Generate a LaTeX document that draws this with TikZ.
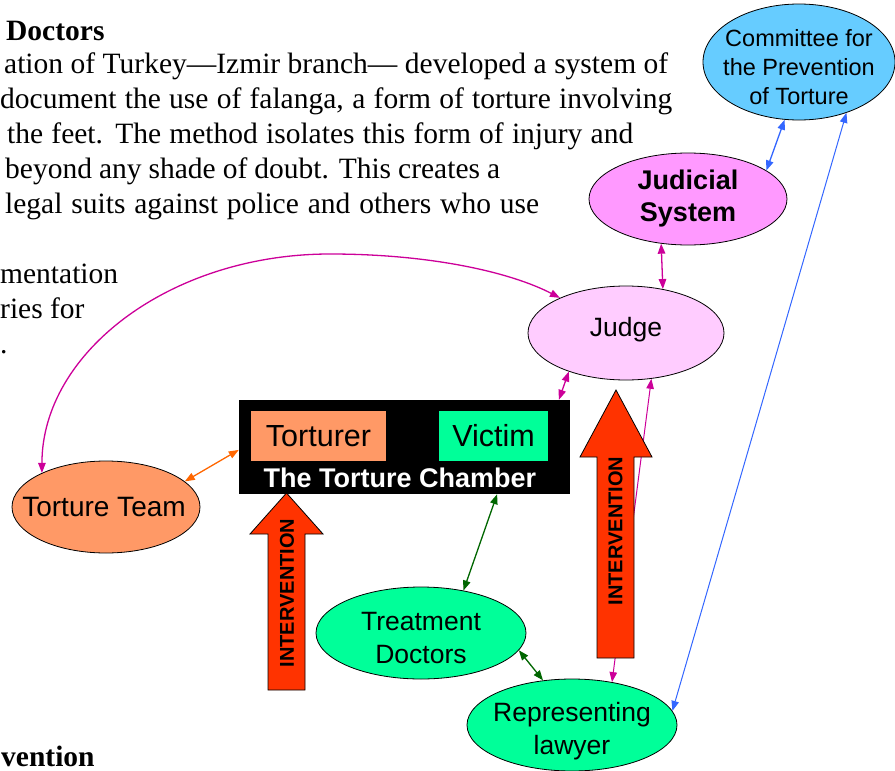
\documentclass[tikz,border=0pt]{standalone}
\usepackage{fontspec}
\setmainfont{Liberation Serif}
\newfontfamily\arialf{Liberation Sans}
\usetikzlibrary{shapes.geometric,arrows.meta,calc}
\definecolor{magc}{HTML}{CC0099}
\definecolor{bluec}{HTML}{3366FF}
\definecolor{orac}{HTML}{FF6600}
\definecolor{grnc}{HTML}{006600}
\definecolor{intc}{HTML}{FF3300}
\definecolor{comc}{HTML}{66CCFF}
\definecolor{judsc}{HTML}{FF99FF}
\definecolor{judgc}{HTML}{FFCCFF}
\definecolor{tortc}{HTML}{FF9966}
\definecolor{vicc}{HTML}{00FF99}
\newcommand{\fline}[2]{\makebox[#1][s]{#2}}
\tikzset{
  ell/.style={ellipse, draw=black, line width=0.8pt, inner sep=0pt},
  lbl/.style={inner sep=0pt, align=center, font=\arialf\fontsize{26.5}{33}\selectfont},
  body/.style={anchor=base west, inner sep=0pt, font=\fontsize{29.5}{35}\selectfont},
  con/.style={line width=1.3pt, {Triangle[length=10pt,width=7.5pt]}-{Triangle[length=10pt,width=7.5pt]}},
  interv/.style={fill=intc, draw=black, line width=0.8pt},
  intext/.style={rotate=90, inner sep=0pt, font=\arialf\bfseries\fontsize{20}{24}\selectfont},
  inbox/.style={rectangle, inner sep=0pt, minimum height=50pt, font=\arialf\fontsize{30.5}{34}\selectfont}
}
\begin{document}
\begin{tikzpicture}[x=1pt,y=-1pt]
\useasboundingbox (0,0) rectangle (895,771);
% body text
\node[body, font=\bfseries\fontsize{29.5}{35}\selectfont] (t0) at (6,40) {Doctors};
\node[body] (t1) at (4,73) {\fline{664pt}{ation of Turkey---Izmir branch--- developed a system of}};
\node[body] (t2) at (0,108) {\fline{672pt}{document the use of falanga, a form of torture involving}};
\node[body] (t3) at (7,143) {\fline{626pt}{the feet. The method isolates this form of injury and}};
\node[body] (t4) at (5,178) {\fline{495pt}{beyond any shade of doubt. This creates a}};
\node[body] (t5) at (5,213) {\fline{534pt}{legal suits against police and others who use}};
\node[body] (t6) at (0,283) {mentation};
\node[body] (t7) at (0,318) {ries for};
\node[body] (t8) at (0,353) {.};
\node[body, font=\bfseries\fontsize{29.5}{35}\selectfont] (t9) at (1,766) {vention};

% ellipses
\node[ell, fill=comc, minimum width=192pt, minimum height=116pt] (com) at (799,62) {};
\node[lbl, font=\arialf\fontsize{23.5}{29}\selectfont] (comtext) at (799,67) {Committee for\\the Prevention\\of Torture};
\node[ell, fill=judsc, minimum width=198pt, minimum height=92pt] (jus) at (688,199) {};
\node[lbl, font=\arialf\bfseries\fontsize{27}{32}\selectfont] (justext) at (688,199) {Judicial\\System};
\node[ell, fill=judgc, minimum width=196pt, minimum height=94pt] (judge) at (626,333) {};
\node[lbl] (judgetext) at (626,330) {Judge};
\node[ell, fill=tortc, minimum width=188pt, minimum height=92pt] (tt) at (106,507) {};
\node[lbl, font=\arialf\fontsize{28}{33}\selectfont] (tttext) at (104,507) {Torture Team};
\node[ell, fill=vicc, minimum width=210pt, minimum height=92pt] (td) at (421,633) {};
\node[lbl] (tdtext) at (421,638) {Treatment\\Doctors};
\node[ell, fill=vicc, minimum width=210pt, minimum height=92pt] (law) at (572,725) {};
\node[lbl] (lawtext) at (572,731) {Representing\\lawyer};

% torture chamber
\node[rectangle, fill=black, minimum width=331pt, minimum height=94pt, inner sep=0pt] (chamber) at (404.5,447) {};
\node[inbox, fill=tortc, minimum width=135pt] (torturer) at (318.5,436) {Torturer};
\node[inbox, fill=vicc, minimum width=109pt] (victim) at (493.5,436) {Victim};
\node[inner sep=0pt, text=white, font=\arialf\bfseries\fontsize{27}{32}\selectfont] (ctitle) at (400,478) {The Torture Chamber};

% thin magenta line behind right intervention arrow
\draw[con, magc, line width=1pt] (law.47.5) -- (judge.299);

% intervention arrows
\path[interv] (268,690) -- (268,534) -- (250,534) -- (286.5,493) -- (323,534) -- (305,534) -- (305,690) -- cycle;
\node[intext] (int1) at (287,593) {INTERVENTION};
\path[interv] (597,658) -- (597,457) -- (580,457) -- (616,390) -- (652,457) -- (634,457) -- (634,658) -- cycle;
\node[intext] (int2) at (615.5,531) {INTERVENTION};

% connectors
\draw[con, bluec] (com.256) -- (jus.20);
\draw[con, magc] (jus.239.4) -- (judge.50.7);
\draw[con, magc] (judge.214) -- (chamber.17.9);
\draw[con, magc] (tt.152) .. controls (42,352) and (171,254) .. (330,254) .. controls (430,254) and (510,272) .. (judge.152.8);
\draw[con, orac] (tt.18.7) -- (chamber.181.7);
\draw[con, grnc] (chamber.333.1) -- (td.45.6);
\draw[con, grnc] (td.350.4) -- (law.123);
\draw[con, bluec, line width=1pt] (com.313.8) -- (law.8.4);
\end{tikzpicture}
\end{document}
